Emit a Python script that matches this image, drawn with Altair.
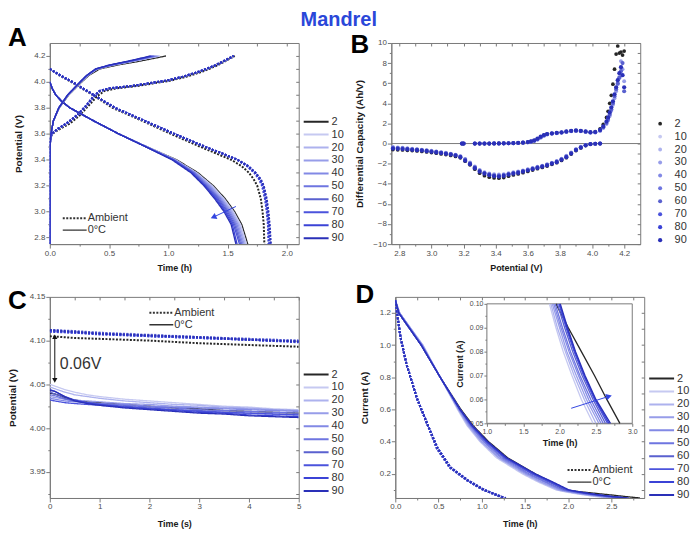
import altair as alt
import pandas as pd

FONT = "Liberation Sans"
CYCLES = [2, 10, 20, 30, 40, 50, 60, 70, 80, 90]
CYCLE_COLORS = ["#262626", "#c6c9f1", "#adb2ee", "#979de9", "#8289e5",
                "#6e75e0", "#5a61cf", "#4b53dc", "#3b43d6", "#2a30b8"]
CONDS = ["Ambient", "0°C"]

# ---------------- Panel A : Time (h) vs Potential (V) ----------------
A_DIS_V = [4.00, 3.95, 3.90, 3.85, 3.80, 3.75, 3.70, 3.60, 3.50, 3.40, 3.30, 3.20, 3.10, 3.00, 2.90, 2.75]
A_DIS_T_0C = {
    2:  [0.00, 0.02, 0.05, 0.10, 0.17, 0.27, 0.37, 0.58, 0.82, 1.07, 1.25, 1.38, 1.48, 1.56, 1.62, 1.67],
    10: [0.00, 0.02, 0.05, 0.10, 0.17, 0.27, 0.37, 0.58, 0.82, 1.06, 1.24, 1.37, 1.47, 1.55, 1.61, 1.66],
    20: [0.00, 0.02, 0.05, 0.10, 0.17, 0.27, 0.37, 0.58, 0.82, 1.06, 1.23, 1.36, 1.46, 1.54, 1.60, 1.65],
    30: [0.00, 0.02, 0.05, 0.10, 0.17, 0.27, 0.37, 0.58, 0.82, 1.05, 1.23, 1.35, 1.45, 1.53, 1.59, 1.64],
    40: [0.00, 0.02, 0.05, 0.10, 0.17, 0.27, 0.37, 0.58, 0.82, 1.05, 1.22, 1.34, 1.44, 1.52, 1.58, 1.63],
    50: [0.00, 0.02, 0.05, 0.10, 0.17, 0.27, 0.37, 0.58, 0.81, 1.05, 1.22, 1.33, 1.43, 1.51, 1.57, 1.62],
    60: [0.00, 0.02, 0.05, 0.10, 0.17, 0.27, 0.37, 0.58, 0.81, 1.04, 1.21, 1.32, 1.42, 1.50, 1.56, 1.61],
    70: [0.00, 0.02, 0.05, 0.10, 0.17, 0.27, 0.37, 0.58, 0.81, 1.04, 1.20, 1.31, 1.41, 1.49, 1.55, 1.60],
    80: [0.00, 0.02, 0.05, 0.10, 0.17, 0.27, 0.37, 0.58, 0.81, 1.04, 1.20, 1.31, 1.40, 1.48, 1.54, 1.58],
    90: [0.00, 0.02, 0.05, 0.10, 0.17, 0.27, 0.37, 0.58, 0.81, 1.03, 1.19, 1.30, 1.39, 1.47, 1.53, 1.57],
}
A_CHG_V = [2.75, 3.50, 3.60, 3.70, 3.80, 3.90, 4.00, 4.05, 4.10, 4.13, 4.16, 4.20]
A_CHG_T_0C = {
    2:  [0.000, 0.002, 0.010, 0.030, 0.080, 0.160, 0.270, 0.330, 0.420, 0.570, 0.760, 0.980],
    10: [0.000, 0.002, 0.010, 0.030, 0.078, 0.156, 0.263, 0.322, 0.402, 0.538, 0.712, 0.930],
    20: [0.000, 0.002, 0.010, 0.030, 0.078, 0.155, 0.262, 0.320, 0.400, 0.533, 0.705, 0.920],
    30: [0.000, 0.002, 0.010, 0.030, 0.077, 0.154, 0.261, 0.319, 0.398, 0.528, 0.698, 0.910],
    40: [0.000, 0.002, 0.010, 0.030, 0.077, 0.153, 0.260, 0.317, 0.396, 0.523, 0.692, 0.900],
    50: [0.000, 0.002, 0.010, 0.030, 0.076, 0.153, 0.259, 0.316, 0.394, 0.519, 0.686, 0.890],
    60: [0.000, 0.002, 0.010, 0.030, 0.076, 0.152, 0.258, 0.314, 0.392, 0.514, 0.680, 0.880],
    70: [0.000, 0.002, 0.010, 0.030, 0.076, 0.151, 0.257, 0.313, 0.390, 0.510, 0.674, 0.870],
    80: [0.000, 0.002, 0.010, 0.030, 0.075, 0.151, 0.256, 0.311, 0.388, 0.505, 0.667, 0.860],
    90: [0.000, 0.002, 0.010, 0.030, 0.075, 0.150, 0.255, 0.310, 0.385, 0.500, 0.660, 0.850],
}
A_AMB_DIS_V = [4.10, 4.05, 4.00, 3.90, 3.80, 3.70, 3.60, 3.50, 3.45, 3.40, 3.35, 3.30, 3.25, 3.20, 3.10, 3.00, 2.90, 2.75]
A_AMB_DIS_T = {
    2:  [0.00, 0.08, 0.18, 0.36, 0.53, 0.78, 1.02, 1.27, 1.40, 1.53, 1.62, 1.68, 1.72, 1.75, 1.78, 1.795, 1.805, 1.81],
    10: [0.00, 0.09, 0.19, 0.37, 0.55, 0.80, 1.05, 1.31, 1.45, 1.58, 1.67, 1.73, 1.77, 1.80, 1.825, 1.84, 1.85, 1.855],
    20: [0.00, 0.09, 0.19, 0.37, 0.55, 0.80, 1.05, 1.31, 1.45, 1.58, 1.67, 1.73, 1.77, 1.795, 1.82, 1.835, 1.845, 1.85],
    30: [0.00, 0.09, 0.19, 0.37, 0.55, 0.80, 1.05, 1.31, 1.45, 1.585, 1.675, 1.735, 1.775, 1.80, 1.825, 1.84, 1.85, 1.86],
    40: [0.00, 0.09, 0.19, 0.37, 0.55, 0.80, 1.05, 1.31, 1.45, 1.58, 1.67, 1.73, 1.77, 1.80, 1.82, 1.835, 1.845, 1.85],
    50: [0.00, 0.09, 0.19, 0.37, 0.55, 0.80, 1.05, 1.31, 1.45, 1.585, 1.675, 1.735, 1.775, 1.80, 1.825, 1.84, 1.85, 1.86],
    60: [0.00, 0.09, 0.19, 0.37, 0.55, 0.80, 1.05, 1.31, 1.45, 1.58, 1.67, 1.73, 1.77, 1.80, 1.82, 1.835, 1.845, 1.85],
    70: [0.00, 0.09, 0.19, 0.37, 0.55, 0.80, 1.05, 1.31, 1.45, 1.585, 1.675, 1.735, 1.775, 1.80, 1.825, 1.84, 1.85, 1.86],
    80: [0.00, 0.09, 0.19, 0.37, 0.55, 0.80, 1.05, 1.31, 1.45, 1.58, 1.665, 1.725, 1.765, 1.79, 1.815, 1.83, 1.84, 1.845],
    90: [0.00, 0.09, 0.19, 0.37, 0.55, 0.80, 1.05, 1.31, 1.45, 1.585, 1.675, 1.735, 1.78, 1.805, 1.83, 1.845, 1.855, 1.865],
}
A_AMB_CHG_V = [2.75, 3.55, 3.60, 3.64, 3.68, 3.74, 3.82, 3.89, 3.93, 3.95, 3.97, 3.99, 4.01, 4.04, 4.08, 4.13, 4.20]
A_AMB_CHG_T = {
    2:  [0.000, 0.002, 0.020, 0.090, 0.170, 0.250, 0.330, 0.400, 0.460, 0.560, 0.750, 0.880, 1.020, 1.150, 1.290, 1.420, 1.560],
    10: [0.000, 0.002, 0.014, 0.070, 0.140, 0.225, 0.310, 0.370, 0.420, 0.500, 0.700, 0.840, 0.980, 1.120, 1.260, 1.400, 1.550],
    20: [0.000, 0.002, 0.015, 0.072, 0.142, 0.228, 0.312, 0.372, 0.423, 0.505, 0.705, 0.845, 0.985, 1.125, 1.265, 1.405, 1.552],
    30: [0.000, 0.002, 0.014, 0.070, 0.140, 0.225, 0.310, 0.370, 0.420, 0.500, 0.700, 0.840, 0.980, 1.120, 1.260, 1.400, 1.550],
    40: [0.000, 0.002, 0.015, 0.072, 0.142, 0.228, 0.312, 0.372, 0.423, 0.505, 0.705, 0.845, 0.985, 1.125, 1.265, 1.405, 1.552],
    50: [0.000, 0.002, 0.014, 0.070, 0.140, 0.225, 0.310, 0.370, 0.420, 0.500, 0.700, 0.840, 0.980, 1.120, 1.260, 1.400, 1.550],
    60: [0.000, 0.002, 0.015, 0.072, 0.142, 0.228, 0.312, 0.372, 0.423, 0.505, 0.705, 0.845, 0.985, 1.125, 1.265, 1.405, 1.552],
    70: [0.000, 0.002, 0.014, 0.070, 0.140, 0.225, 0.310, 0.370, 0.420, 0.500, 0.700, 0.840, 0.980, 1.120, 1.260, 1.400, 1.550],
    80: [0.000, 0.002, 0.015, 0.072, 0.142, 0.228, 0.312, 0.372, 0.423, 0.505, 0.705, 0.845, 0.985, 1.125, 1.265, 1.405, 1.552],
    90: [0.000, 0.002, 0.014, 0.070, 0.140, 0.225, 0.310, 0.370, 0.420, 0.500, 0.700, 0.840, 0.980, 1.120, 1.260, 1.400, 1.550],
}
A_ARROW_T = [1.57, 1.38]
A_ARROW_V = [3.04, 2.958]

# ---------------- Panel B : dQ/dV vs Potential ----------------
B_CYCLES = [2, 30, 60, 90]
B_DIS_V = [2.76, 2.79, 2.82, 2.85, 2.88, 2.91, 2.94, 2.97, 3.00, 3.03,
           3.06, 3.09, 3.12, 3.15, 3.18, 3.21, 3.24, 3.27, 3.30, 3.33,
           3.36, 3.39, 3.42, 3.45, 3.48, 3.51, 3.54, 3.57, 3.60, 3.63,
           3.66, 3.69, 3.72, 3.75, 3.78, 3.81, 3.84, 3.87, 3.90, 3.93,
           3.96, 3.99, 4.02, 4.05]
B_DIS_DQ = {
    2:  [-0.60, -0.62, -0.64, -0.67, -0.70, -0.74, -0.78, -0.84, -0.90, -0.96, -1.03, -1.10, -1.18, -1.28, -1.42,
         -1.75, -2.12, -2.55, -2.95, -3.20, -3.35, -3.42, -3.45, -3.38, -3.25, -3.12, -3.02, -2.90, -2.77, -2.64,
         -2.50, -2.37, -2.24, -2.06, -1.90, -1.68, -1.40, -1.05, -0.70, -0.44, -0.20, -0.07, -0.02, 0.00],
    30: [-0.35, -0.38, -0.42, -0.46, -0.50, -0.55, -0.60, -0.65, -0.71, -0.78, -0.85, -0.92, -1.00, -1.10, -1.25,
         -1.52, -1.88, -2.28, -2.62, -2.85, -2.98, -3.06, -3.08, -3.04, -2.95, -2.86, -2.78, -2.67, -2.55, -2.43,
         -2.31, -2.19, -2.06, -1.90, -1.74, -1.50, -1.22, -0.88, -0.55, -0.32, -0.14, -0.05, -0.02, 0.00],
    60: [-0.42, -0.45, -0.48, -0.52, -0.56, -0.60, -0.65, -0.70, -0.76, -0.83, -0.90, -0.97, -1.05, -1.15, -1.30,
         -1.60, -1.95, -2.35, -2.70, -2.92, -3.05, -3.15, -3.18, -3.12, -3.02, -2.92, -2.84, -2.73, -2.61, -2.49,
         -2.37, -2.25, -2.12, -1.96, -1.80, -1.56, -1.28, -0.94, -0.60, -0.36, -0.16, -0.05, -0.02, 0.00],
    90: [-0.50, -0.52, -0.55, -0.58, -0.62, -0.66, -0.70, -0.76, -0.82, -0.88, -0.95, -1.02, -1.10, -1.20, -1.35,
         -1.70, -2.05, -2.45, -2.80, -3.00, -3.15, -3.25, -3.28, -3.22, -3.10, -3.00, -2.92, -2.80, -2.68, -2.55,
         -2.42, -2.30, -2.18, -2.00, -1.85, -1.62, -1.35, -1.00, -0.65, -0.40, -0.18, -0.06, -0.02, 0.00],
}
B_CHG_V = [3.19, 3.20, 3.27, 3.30, 3.33, 3.36, 3.39, 3.42, 3.45, 3.48,
           3.51, 3.54, 3.57, 3.60, 3.62, 3.64, 3.66, 3.68, 3.70, 3.72,
           3.75, 3.78, 3.81, 3.84, 3.87, 3.90, 3.93, 3.96, 3.99, 4.02,
           4.05, 4.07, 4.09, 4.10, 4.11, 4.12, 4.13, 4.14, 4.15, 4.16,
           4.17, 4.18, 4.19, 4.20]
B_CHG_DQ = {
    2:  [0.00, 0.00, 0.00, 0.00, 0.00, 0.00, 0.00, 0.01, 0.02, 0.03, 0.04, 0.06, 0.09, 0.14, 0.20,
         0.30, 0.45, 0.65, 0.82, 0.93, 1.00, 1.05, 1.10, 1.18, 1.25, 1.28, 1.25, 1.18, 1.12, 1.18,
         1.45, 1.90, 2.60, 3.20, 4.00, 4.80, 5.90, 7.40, 8.90, 9.70, 9.00, 9.10, 8.80, 9.20],
    30: [0.00, 0.00, 0.00, 0.00, 0.00, 0.00, 0.00, 0.00, 0.01, 0.02, 0.03, 0.05, 0.08, 0.12, 0.17,
         0.25, 0.38, 0.58, 0.76, 0.90, 0.98, 1.03, 1.08, 1.15, 1.22, 1.26, 1.23, 1.16, 1.08, 1.10,
         1.26, 1.55, 1.95, 2.30, 2.75, 3.25, 3.85, 4.50, 5.20, 5.90, 6.50, 8.20, 7.40, 6.20],
    60: [0.00, 0.00, 0.00, 0.00, 0.00, 0.00, 0.00, 0.01, 0.02, 0.03, 0.04, 0.06, 0.09, 0.13, 0.19,
         0.28, 0.42, 0.62, 0.80, 0.92, 1.00, 1.05, 1.10, 1.17, 1.24, 1.28, 1.25, 1.18, 1.10, 1.12,
         1.30, 1.62, 2.05, 2.45, 2.90, 3.40, 4.00, 4.70, 5.40, 6.00, 6.60, 7.20, 8.00, 5.20],
    90: [0.00, 0.00, 0.00, 0.00, 0.00, 0.00, 0.01, 0.01, 0.02, 0.03, 0.05, 0.07, 0.10, 0.15, 0.22,
         0.32, 0.48, 0.68, 0.85, 0.95, 1.02, 1.07, 1.12, 1.20, 1.27, 1.30, 1.27, 1.20, 1.13, 1.15,
         1.35, 1.70, 2.20, 2.60, 3.10, 3.60, 4.20, 4.90, 5.60, 6.30, 7.00, 7.60, 6.80, 5.60],
}

# ---------------- Panel C : Time (s) vs Potential (V) ----------------
C_T = [0, 0.1, 0.2, 0.3, 0.5, 0.75, 1, 1.5, 2, 2.5, 3, 3.5, 4, 4.5, 5]
C_V_0C = {
    2:  [4.040, 4.039, 4.037, 4.035, 4.032, 4.030, 4.029, 4.027, 4.025, 4.023, 4.022, 4.020, 4.019, 4.018, 4.017],
    10: [4.050, 4.048, 4.046, 4.044, 4.041, 4.038, 4.036, 4.033, 4.031, 4.029, 4.027, 4.025, 4.024, 4.022, 4.021],
    20: [4.047, 4.045, 4.043, 4.041, 4.038, 4.036, 4.034, 4.031, 4.029, 4.027, 4.026, 4.024, 4.023, 4.021, 4.020],
    30: [4.036, 4.035, 4.034, 4.033, 4.032, 4.031, 4.030, 4.028, 4.027, 4.025, 4.024, 4.023, 4.022, 4.021, 4.020],
    40: [4.034, 4.033, 4.032, 4.031, 4.030, 4.029, 4.028, 4.027, 4.025, 4.024, 4.023, 4.022, 4.021, 4.020, 4.019],
    50: [4.038, 4.037, 4.035, 4.033, 4.031, 4.029, 4.028, 4.026, 4.024, 4.023, 4.021, 4.020, 4.019, 4.018, 4.017],
    60: [4.041, 4.039, 4.037, 4.034, 4.031, 4.029, 4.027, 4.025, 4.023, 4.021, 4.020, 4.018, 4.017, 4.016, 4.015],
    70: [4.032, 4.031, 4.030, 4.029, 4.028, 4.027, 4.026, 4.024, 4.022, 4.021, 4.019, 4.018, 4.017, 4.016, 4.015],
    80: [4.044, 4.042, 4.039, 4.036, 4.032, 4.029, 4.027, 4.024, 4.022, 4.020, 4.018, 4.017, 4.015, 4.014, 4.013],
    90: [4.043, 4.042, 4.039, 4.036, 4.031, 4.028, 4.026, 4.023, 4.021, 4.019, 4.017, 4.016, 4.014, 4.013, 4.012],
}
C_T_AMB = [0, 0.5, 1, 2, 3, 4, 5]
C_V_AMB = {
    2:  [4.105, 4.103, 4.102, 4.100, 4.097, 4.095, 4.093],
    10: [4.111, 4.110, 4.109, 4.106, 4.104, 4.102, 4.100],
    20: [4.112, 4.110, 4.109, 4.107, 4.104, 4.102, 4.100],
    30: [4.111, 4.109, 4.108, 4.106, 4.104, 4.101, 4.099],
    40: [4.112, 4.110, 4.108, 4.106, 4.103, 4.101, 4.099],
    50: [4.111, 4.110, 4.108, 4.105, 4.103, 4.101, 4.099],
    60: [4.112, 4.111, 4.109, 4.106, 4.104, 4.102, 4.100],
    70: [4.111, 4.109, 4.108, 4.105, 4.103, 4.101, 4.099],
    80: [4.110, 4.109, 4.107, 4.105, 4.103, 4.101, 4.098],
    90: [4.112, 4.110, 4.108, 4.106, 4.104, 4.101, 4.099],
}
C_ARROW_T = [0.1, 0.1]
C_ARROW_V = [4.0545, 4.1045]
C_NOTE = "0.06V"

# ---------------- Panel D : Time (h) vs Current (A) ----------------
D_I = [1.28, 1.20, 1.00, 0.80, 0.60, 0.50, 0.40, 0.30, 0.20, 0.15, 0.10, 0.09, 0.08, 0.07, 0.06, 0.05]
D_T_0C = {
    2:  [0.00, 0.04, 0.30, 0.52, 0.76, 0.90, 1.08, 1.30, 1.62, 1.80, 1.95, 2.12, 2.30, 2.48, 2.65, 2.83],
    10: [0.00, 0.05, 0.32, 0.52, 0.72, 0.83, 0.98, 1.17, 1.47, 1.65, 1.86, 1.95, 2.05, 2.17, 2.30, 2.46],
    20: [0.00, 0.05, 0.32, 0.52, 0.73, 0.84, 0.99, 1.19, 1.49, 1.67, 1.88, 1.97, 2.08, 2.20, 2.34, 2.50],
    30: [0.00, 0.05, 0.31, 0.52, 0.73, 0.85, 1.00, 1.20, 1.51, 1.69, 1.90, 2.00, 2.10, 2.23, 2.37, 2.54],
    40: [0.00, 0.05, 0.31, 0.52, 0.74, 0.86, 1.02, 1.22, 1.53, 1.72, 1.92, 2.02, 2.13, 2.26, 2.40, 2.57],
    50: [0.00, 0.04, 0.31, 0.52, 0.74, 0.87, 1.03, 1.24, 1.55, 1.74, 1.94, 2.04, 2.15, 2.28, 2.43, 2.60],
    60: [0.00, 0.04, 0.30, 0.52, 0.75, 0.88, 1.05, 1.26, 1.58, 1.77, 1.97, 2.07, 2.18, 2.31, 2.46, 2.63],
    70: [0.00, 0.04, 0.30, 0.52, 0.75, 0.88, 1.05, 1.27, 1.59, 1.79, 1.99, 2.09, 2.20, 2.33, 2.48, 2.66],
    80: [0.00, 0.04, 0.30, 0.52, 0.75, 0.89, 1.06, 1.28, 1.61, 1.81, 2.00, 2.10, 2.21, 2.34, 2.49, 2.68],
    90: [0.00, 0.04, 0.30, 0.52, 0.75, 0.89, 1.07, 1.29, 1.62, 1.82, 2.01, 2.11, 2.22, 2.35, 2.50, 2.70],
}
D_I_AMB = [1.28, 1.20, 1.05, 0.88, 0.67, 0.51, 0.36, 0.24, 0.16, 0.10, 0.06, 0.05]
D_T_AMB = {
    2:  [0.00, 0.02, 0.06, 0.13, 0.25, 0.37, 0.48, 0.63, 0.83, 1.02, 1.21, 1.26],
    10: [0.00, 0.02, 0.06, 0.13, 0.25, 0.37, 0.49, 0.64, 0.84, 1.03, 1.22, 1.27],
    20: [0.00, 0.02, 0.06, 0.13, 0.25, 0.37, 0.48, 0.64, 0.84, 1.03, 1.22, 1.27],
    30: [0.00, 0.02, 0.06, 0.13, 0.25, 0.37, 0.48, 0.63, 0.83, 1.02, 1.21, 1.26],
    40: [0.00, 0.02, 0.06, 0.13, 0.25, 0.37, 0.49, 0.64, 0.84, 1.03, 1.22, 1.27],
    50: [0.00, 0.02, 0.06, 0.13, 0.25, 0.37, 0.48, 0.63, 0.84, 1.03, 1.22, 1.26],
    60: [0.00, 0.02, 0.06, 0.13, 0.25, 0.37, 0.48, 0.63, 0.83, 1.02, 1.21, 1.26],
    70: [0.00, 0.02, 0.06, 0.13, 0.25, 0.37, 0.49, 0.64, 0.84, 1.03, 1.22, 1.27],
    80: [0.00, 0.02, 0.06, 0.13, 0.25, 0.37, 0.48, 0.63, 0.83, 1.02, 1.21, 1.26],
    90: [0.00, 0.02, 0.06, 0.13, 0.25, 0.37, 0.49, 0.64, 0.84, 1.03, 1.22, 1.28],
}
D_ARROW_T = [2.16, 2.68]
D_ARROW_I = [0.0563, 0.0613]

W, H = 250, 202
ARROW_BLUE = "#3346e0"
FRAME = "#7a7a7a"


# ---------------- helpers ----------------
def curve_rows(xs, ys, cond, branch, cycles=CYCLES):
    rows = []
    for c in cycles:
        xv = xs[c] if isinstance(xs, dict) else xs
        yv = ys[c] if isinstance(ys, dict) else ys
        for i, (a, b) in enumerate(zip(xv, yv)):
            rows.append(dict(x=a, y=b, cycle=c, cond=cond, seg=f"{cond}|{branch}|{c}", i=i))
    return rows


def ticks(start, stop, step):
    n = int(round((stop - start) / step))
    return [round(start + k * step, 4) for k in range(n + 1)]


def make_axis(title, values, major, fmt, orient, title_size=9, label_size=8, title_pad=6,
              offset=None, major_len=4, minor_len=2):
    test = f"abs(datum.value / {major} - round(datum.value / {major})) < 0.001"
    kw = dict(title=title, values=values, format=fmt, orient=orient,
              labelExpr=f"({test}) ? datum.label : ''",
              tickSize={"condition": {"test": test, "value": major_len}, "value": minor_len},
              labelFontSize=label_size, labelColor="#4d4d4d", labelOverlap=False,
              labelFlush=False, labelPadding=1,
              titleFontSize=title_size, titleFontWeight="bold", titleColor="#1a1a1a",
              titlePadding=title_pad, domainColor=FRAME, tickColor=FRAME, grid=False)
    if offset is not None:
        kw["offset"] = offset
    return alt.Axis(**kw)


def mirror_axis(orient, values):
    # inward ticks on the top / right frame edges (Origin style)
    return alt.Axis(orient=orient, values=values, labels=False, domain=False, ticks=True,
                    tickSize=3, offset=-3, tickColor=FRAME, title=None, grid=False)


def mirror_layer(xscale, yscale, xvals, yvals, x0, y0):
    return alt.Chart(pd.DataFrame({"x": [x0], "y": [y0]})).mark_point(opacity=0).encode(
        x=alt.X("x:Q", scale=xscale, axis=mirror_axis("top", xvals)),
        y=alt.Y("y:Q", scale=yscale, axis=mirror_axis("right", yvals)))


def color_enc(lx, ly):
    return alt.Color("cycle:O", scale=alt.Scale(domain=CYCLES, range=CYCLE_COLORS),
                     legend=alt.Legend(title=None, orient="none", legendX=lx, legendY=ly,
                                       symbolType="stroke", symbolSize=625, symbolStrokeWidth=2,
                                       clipHeight=11, rowPadding=1, labelOffset=2,
                                       labelFontSize=11, labelColor="#333333", padding=0))


def dash_enc(lx, ly):
    return alt.StrokeDash("cond:N", scale=alt.Scale(domain=CONDS, range=[[2, 1.5], [1, 0]]),
                          legend=alt.Legend(title=None, orient="none", legendX=lx, legendY=ly,
                                            symbolType="stroke", symbolSize=576,
                                            symbolStrokeWidth=1.5, symbolStrokeColor="#333333",
                                            clipHeight=11, rowPadding=0, labelOffset=0,
                                            labelFontSize=11, labelColor="#333333", padding=0))


WIDTH_ENC = alt.StrokeWidth("cond:N", scale=alt.Scale(domain=CONDS, range=[2.0, 1.3]), legend=None)


def letter(ch, dx, dy):
    return alt.Chart(pd.DataFrame({"label": [ch]})).mark_text(
        fontSize=26, fontWeight="bold", color="#000000", align="left", baseline="top"
    ).encode(text="label:N", x=alt.value(dx), y=alt.value(dy))


# ---------------- Panel A ----------------
dfA = pd.DataFrame(
    curve_rows(A_AMB_DIS_T, A_AMB_DIS_V, "Ambient", "dis")
    + curve_rows(A_AMB_CHG_T, A_AMB_CHG_V, "Ambient", "chg")
    + curve_rows(A_DIS_T_0C, A_DIS_V, "0°C", "dis")
    + curve_rows(A_CHG_T_0C, A_CHG_V, "0°C", "chg"))
sxA = alt.Scale(domain=[0, 2.1], nice=False, zero=False)
syA = alt.Scale(domain=[2.75, 4.3], nice=False, zero=False)
xvA, yvA = ticks(0, 2.0, 0.25), ticks(2.8, 4.2, 0.1)
xA = alt.X("x:Q", scale=sxA, axis=make_axis("Time (h)", xvA, 0.5, ".1f", "bottom", title_pad=7))
yA = alt.Y("y:Q", scale=syA,
           axis=make_axis("Potential (V)", yvA, 0.2, ".1f", "left", title_size=10, title_pad=10))
a_lines = alt.Chart(dfA).mark_line(clip=True).encode(
    x=xA, y=yA, color=color_enc(254, 73.5), strokeDash=dash_enc(12, 170.5),
    strokeWidth=WIDTH_ENC, detail="seg:N", order="i:Q")
dfA_arrow = pd.DataFrame({"x": A_ARROW_T, "y": A_ARROW_V, "i": [0, 1]})
a_arrow = alt.Chart(dfA_arrow).mark_line(color=ARROW_BLUE, strokeWidth=1).encode(x=xA, y=yA, order="i:Q")
a_head = alt.Chart(dfA_arrow.iloc[[1]]).mark_point(
    shape="triangle-left", filled=True, size=45, angle=336, color=ARROW_BLUE, opacity=1).encode(x=xA, y=yA)
panelA = alt.layer(
    alt.layer(a_lines, a_arrow, a_head, letter("A", -42, -18)),
    mirror_layer(sxA, syA, xvA, yvA, 1.0, 3.5),
).resolve_axis(x="independent", y="independent").properties(width=W, height=H)

# ---------------- Panel B ----------------
dfB = pd.DataFrame(
    curve_rows(B_DIS_V, B_DIS_DQ, "0°C", "dis", cycles=B_CYCLES)
    + curve_rows(B_CHG_V, B_CHG_DQ, "0°C", "chg", cycles=B_CYCLES))
dfB["order"] = dfB["cycle"].map({2: 0, 30: 1, 60: 2, 90: 3})
dfB = dfB.sort_values(["order", "seg", "i"]).reset_index(drop=True)
sxB = alt.Scale(domain=[2.75, 4.3], nice=False, zero=False)
syB = alt.Scale(domain=[-10, 10], nice=False)
xvB, yvB = ticks(2.8, 4.2, 0.1), ticks(-10, 10, 1)
xB = alt.X("x:Q", scale=sxB, axis=make_axis("Potential (V)", xvB, 0.2, ".1f", "bottom", title_pad=7))
yB = alt.Y("y:Q", scale=syB,
           axis=make_axis("Differential Capacity (Ah/V)", yvB, 2, "d", "left", title_size=10, title_pad=8))
legB = alt.Legend(title=None, orient="none", legendX=264.5, legendY=75.5, symbolType="circle",
                  symbolStrokeWidth=0, clipHeight=11, rowPadding=1, labelOffset=9,
                  labelFontSize=11, labelColor="#333333", padding=0)
b_zero = alt.Chart(pd.DataFrame({"y": [0.0]})).mark_rule(color=FRAME, strokeWidth=1).encode(y=yB)
b_pts = alt.Chart(dfB).mark_circle(opacity=1, strokeWidth=0).encode(
    x=xB, y=yB,
    color=alt.Color("cycle:O", scale=alt.Scale(domain=CYCLES, range=CYCLE_COLORS), legend=legB),
    size=alt.Size("cycle:O", scale=alt.Scale(domain=CYCLES, range=[14, 18, 18, 18, 18, 18, 18, 18, 18, 30]),
                  legend=legB),
    order="order:Q")
panelB = alt.layer(
    alt.layer(b_zero, b_pts, letter("B", -41, -11)),
    mirror_layer(sxB, syB, xvB, yvB, 3.5, 0.0),
).resolve_axis(x="independent", y="independent").properties(width=W, height=H)

# ---------------- Panel C ----------------
dfC = pd.DataFrame(curve_rows(C_T_AMB, C_V_AMB, "Ambient", "rest")
                   + curve_rows(C_T, C_V_0C, "0°C", "rest"))
sxC = alt.Scale(domain=[0, 5], nice=False, zero=False)
syC = alt.Scale(domain=[3.92, 4.15], nice=False, zero=False)
xvC, yvC = ticks(0, 5, 0.5), ticks(3.925, 4.15, 0.025)
xC = alt.X("x:Q", scale=sxC, axis=make_axis("Time (s)", xvC, 1, "d", "bottom", title_pad=9))
yC = alt.Y("y:Q", scale=syC,
           axis=make_axis("Potential (V)", yvC, 0.05, ".2f", "left", title_size=10, title_pad=12))
c_lines = alt.Chart(dfC).mark_line(clip=True).encode(
    x=xC, y=yC, color=color_enc(254, 72.5), strokeDash=dash_enc(99, 10.5),
    strokeWidth=WIDTH_ENC, detail="seg:N", order="i:Q")
dfC_arrow = pd.DataFrame({"x": C_ARROW_T, "y": C_ARROW_V, "shape": ["triangle-down", "triangle-up"]})
c_rule = alt.Chart(dfC_arrow.iloc[[0]].assign(y2=C_ARROW_V[1])).mark_rule(color="#111111", strokeWidth=1).encode(
    x=xC, y=yC, y2="y2:Q")
c_heads = alt.Chart(dfC_arrow).mark_point(filled=True, size=28, color="#111111", opacity=1).encode(
    x=xC, y=yC, shape=alt.Shape("shape:N", scale=None))
c_text = alt.Chart(pd.DataFrame({"x": [0.2], "y": [4.068], "label": [C_NOTE]})).mark_text(
    fontSize=16, color="#333333", align="left", baseline="alphabetic").encode(x=xC, y=yC, text="label:N")
panelC = alt.layer(
    alt.layer(c_lines, c_rule, c_heads, c_text, letter("C", -42, -9)),
    mirror_layer(sxC, syC, xvC, yvC, 2.0, 4.0),
).resolve_axis(x="independent", y="independent").properties(width=W, height=H)

# ---------------- Panel D ----------------
dfD = pd.DataFrame(curve_rows(D_T_AMB, D_I_AMB, "Ambient", "dec")
                   + curve_rows(D_T_0C, D_I, "0°C", "dec"))
sxD = alt.Scale(domain=[0, 2.88], nice=False, zero=False)
syD = alt.Scale(domain=[0.05, 1.3], nice=False, zero=False)
xvD, yvD = ticks(0, 2.75, 0.25), ticks(0.1, 1.2, 0.1)
xD = alt.X("x:Q", scale=sxD, axis=make_axis("Time (h)", xvD, 0.5, ".1f", "bottom", title_pad=9))
yD = alt.Y("y:Q", scale=syD,
           axis=make_axis("Current (A)", yvD, 0.2, ".1f", "left", title_size=10, title_pad=10))
d_lines = alt.Chart(dfD).mark_line(clip=True).encode(
    x=xD, y=yD, color=color_enc(254, 76.5), strokeDash=dash_enc(172, 168.5),
    strokeWidth=WIDTH_ENC, detail="seg:N", order="i:Q")
d_main = alt.layer(
    alt.layer(d_lines, letter("D", -40, -15)),
    mirror_layer(sxD, syD, xvD, yvD, 1.0, 0.5),
).resolve_axis(x="independent", y="independent")

xI = alt.X("x:Q", scale=alt.Scale(domain=[1.0, 3.0], range=[92, 238], nice=False, zero=False),
           axis=make_axis("Time (h)", ticks(1.0, 3.0, 0.25), 0.5, ".1f", "bottom", title_size=9, label_size=7,
                          title_pad=4, offset=-75, major_len=3, minor_len=2))
yI = alt.Y("y:Q", scale=alt.Scale(domain=[0.05, 0.10], range=[127, 7], nice=False, zero=False),
           axis=make_axis("Current (A)", ticks(0.05, 0.10, 0.005), 0.01, ".2f", "left", title_size=9, label_size=7,
                          title_pad=5, offset=-92, major_len=3, minor_len=2))
dfInset = dfD[(dfD["cond"] == "0°C") & (dfD["y"] <= 0.1001)]
i_box = alt.Chart(pd.DataFrame({"x": [1.0], "x2": [3.0], "y": [0.05], "y2": [0.10]})).mark_rect(
    fill="white", stroke=FRAME, strokeWidth=1).encode(x=xI, x2="x2:Q", y=yI, y2="y2:Q")
i_lines = alt.Chart(dfInset).mark_line(strokeWidth=1.3).encode(
    x=xI, y=yI, color=alt.Color("cycle:O", scale=alt.Scale(domain=CYCLES, range=CYCLE_COLORS)),
    detail="seg:N", order="i:Q")
dfD_arrow = pd.DataFrame({"x": D_ARROW_T, "y": D_ARROW_I, "i": [0, 1]})
i_arrow = alt.Chart(dfD_arrow).mark_line(color=ARROW_BLUE, strokeWidth=1).encode(x=xI, y=yI, order="i:Q")
i_head = alt.Chart(dfD_arrow.iloc[[1]]).mark_point(
    shape="triangle-right", filled=True, size=45, angle=344, color=ARROW_BLUE, opacity=1).encode(x=xI, y=yI)
d_inset = alt.layer(i_box, i_lines, i_arrow, i_head)
panelD = alt.layer(d_main, d_inset).resolve_scale(x="independent", y="independent").properties(width=W, height=H)

# ---------------- compose ----------------
IND = dict(color="independent", strokeDash="independent", size="independent", strokeWidth="independent")
row1 = alt.hconcat(panelA, panelB, spacing=4).resolve_scale(**IND)
row2 = alt.hconcat(panelC, panelD, spacing=9).resolve_scale(**IND)
chart = alt.vconcat(row1, row2, spacing=7).resolve_scale(**IND).properties(
    title=alt.TitleParams("Mandrel", fontSize=20, fontWeight="bold", color="#2a47d9",
                          anchor="middle", frame="bounds", offset=-5, dx=-10),
    padding={"left": -2, "top": 0, "right": 0, "bottom": 0},
    background="white",
).configure(font=FONT).configure_view(stroke=FRAME, strokeWidth=1)

chart.save("out.html", embed_options={"renderer": "svg", "actions": False})
